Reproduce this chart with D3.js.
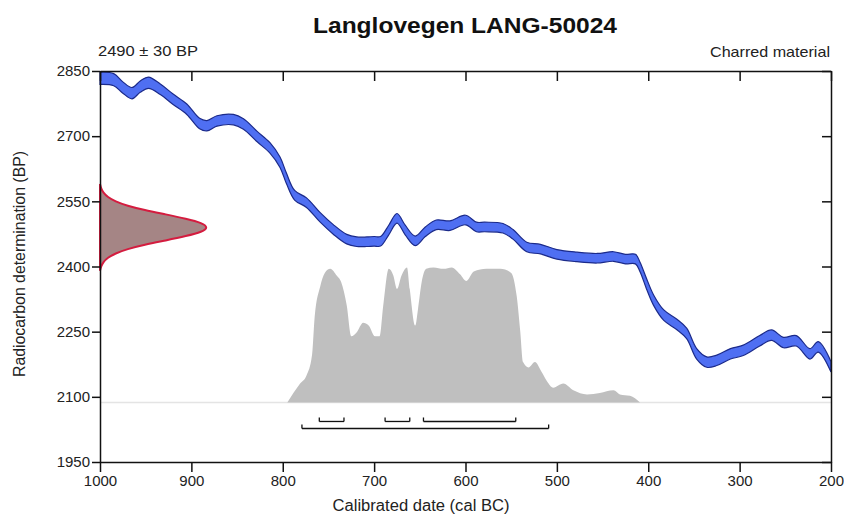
<!DOCTYPE html>
<html>
<head>
<meta charset="utf-8">
<style>
  body { margin: 0; background: white; }
  svg { font-family: "Liberation Sans", Arial, sans-serif; }
  .axis path, .axis line { stroke: #111; stroke-width: 1.5px; }
  .axis text { fill: #222; font-size: 15px; font-family: "Liberation Sans", Arial, sans-serif; }
</style>
</head>
<body>
<script src="https://d3js.org/d3.v7.min.js"></script>
<div id="chart"></div>
<script>

// calibration curve (IntCal): year BC, BP, 1-sigma
var curveYears = [1000, 985, 975, 965, 956, 947, 934, 920, 905, 891, 883, 872, 854, 843, 828, 814, 803, 796, 787, 774,
                  759, 745, 730, 719, 708, 700, 693, 684, 675, 666, 655, 644, 632, 617, 600, 588, 579, 559, 548, 533,
                  518, 500, 478, 456, 438, 425, 414, 409, 402, 394, 383, 369, 358, 347, 336, 325, 310, 296, 278, 265,
                  252, 238, 223, 214, 200];
var curveBP    = [2833, 2830, 2812, 2799, 2814, 2823, 2808, 2785, 2762, 2729, 2724, 2735, 2738, 2728, 2699, 2673, 2640, 2603, 2564, 2547,
                  2513, 2486, 2463, 2457, 2457, 2458, 2458, 2484, 2511, 2484, 2459, 2480, 2496, 2494, 2507, 2491, 2491, 2488, 2474, 2445,
                  2440, 2428, 2422, 2419, 2423, 2417, 2417, 2399, 2361, 2322, 2288, 2267, 2246, 2199, 2180, 2184, 2199, 2207, 2229, 2242,
                  2225, 2229, 2199, 2215, 2169];
var curveErr   = [14, 14, 13, 13, 13, 13, 12, 12, 12, 12, 12, 12, 12, 12, 12, 12, 12, 12, 11, 11,
                  11, 11, 11, 11, 11, 11, 11, 11, 11, 11, 11, 11, 11, 11, 11, 11, 11, 11, 11, 11,
                  11, 11, 11, 11, 11, 11, 11, 11, 12, 12, 12, 12, 12, 12, 12, 12, 12, 12, 12, 12,
                  12, 12, 12, 12, 12];

// radiocarbon measurement 2490 +/- 30 BP, relative density at BP
var measBP  = [2390, 2400, 2410, 2420, 2430, 2440, 2450, 2460, 2470, 2480, 2490, 2500, 2510, 2520, 2530, 2540, 2550, 2560, 2570, 2580, 2590];
var measRel = [0.00, 0.01, 0.03, 0.07, 0.14, 0.25, 0.41, 0.61, 0.80, 0.95, 1.00, 0.95, 0.80, 0.61, 0.41, 0.25, 0.14, 0.07, 0.03, 0.01, 0.00];

// calibrated probability, year BC and relative height
var probYears = [795, 781, 774, 768, 765, 759, 754, 748, 741, 736, 730, 725, 719, 712, 706, 699, 694, 690, 684, 679,
                 675, 670, 664, 661, 655, 652, 648, 643, 635, 624, 615, 606, 599, 591, 577, 562, 550, 544, 540, 537,
                 531, 524, 517, 511, 504, 493, 482, 467, 453, 438, 431, 420, 409];
var probRel   = [0.00, 0.14, 0.20, 0.35, 0.64, 0.86, 0.96, 0.99, 0.94, 0.89, 0.72, 0.49, 0.52, 0.59, 0.57, 0.49, 0.49, 0.72, 0.99, 0.94,
                 0.84, 0.94, 1.00, 0.84, 0.57, 0.69, 0.89, 0.99, 1.00, 0.99, 1.00, 0.95, 0.90, 0.97, 0.99, 0.99, 0.96, 0.79, 0.52, 0.30,
                 0.26, 0.30, 0.23, 0.16, 0.11, 0.14, 0.09, 0.06, 0.07, 0.09, 0.06, 0.05, 0.00];

// highest posterior density ranges
var range68 = [[760, 733], [688, 661], [646, 545]];
var range95 = [[779, 509]];

var xTicks = [1000, 900, 800, 700, 600, 500, 400, 300, 200];
var yTicks = [1950, 2100, 2250, 2400, 2550, 2700, 2850];

var width = 844, height = 520;

var svg = d3.select("#chart")
  .append("svg")
    .attr("width", width)
    .attr("height", height);

var x = d3.scaleLinear().domain([1000, 200]).range([100, 831]);
var y = d3.scaleLinear().domain([1950, 2850]).range([462, 71]);

// probability baseline and heights
var probBase = y(2087);
var p = d3.scaleLinear().domain([0, 1]).range([probBase, probBase - 135]);
var w = d3.scaleLinear().domain([0, 1]).range([x(1000), x(1000) + 108]);

// baseline of the calibrated distribution
svg.append("line")
  .attr("x1", x(1000)).attr("x2", x(200))
  .attr("y1", probBase).attr("y2", probBase)
  .attr("stroke", "#e4e4e4")
  .attr("stroke-width", 1.5);

// calibrated distribution
var probData = probYears.map(function(d, i) { return {year: d, v: probRel[i]}; });
svg.append("path")
  .datum(probData)
  .attr("fill", "#bfbfbf")
  .attr("d", d3.area()
    .x(function(d) { return x(d.year); })
    .y0(probBase)
    .y1(function(d) { return p(d.v); })
    .curve(d3.curveMonotoneX));

// calibration curve band
var curveData = curveYears.map(function(d, i) { return {year: d, bp: curveBP[i], err: curveErr[i]}; });
svg.append("path")
  .datum(curveData)
  .attr("fill", "#4f6ff2")
  .attr("stroke", "#1b2a8a")
  .attr("stroke-width", 1.2)
  .attr("d", d3.area()
    .x(function(d) { return x(d.year); })
    .y0(function(d) { return y(d.bp - d.err); })
    .y1(function(d) { return y(d.bp + d.err); })
    .curve(d3.curveCatmullRom.alpha(0.5)));

// measurement distribution on the y axis
var measData = measBP.map(function(d, i) { return {bp: d, v: measRel[i]}; });
svg.append("path")
  .datum(measData)
  .attr("fill", "#a58585")
  .attr("stroke", "#d41c3f")
  .attr("stroke-width", 2)
  .attr("d", d3.area()
    .y(function(d) { return y(d.bp); })
    .x0(x(1000))
    .x1(function(d) { return w(d.v); })
    .curve(d3.curveBasis));

// range brackets
function drawRanges(ranges, yy) {
  ranges.forEach(function(r) {
    var g = svg.append("g").attr("stroke", "#111").attr("stroke-width", 1.3);
    g.append("line").attr("x1", x(r[0])).attr("x2", x(r[1])).attr("y1", yy).attr("y2", yy);
    g.append("line").attr("x1", x(r[0])).attr("x2", x(r[0])).attr("y1", yy).attr("y2", yy - 4);
    g.append("line").attr("x1", x(r[1])).attr("x2", x(r[1])).attr("y1", yy).attr("y2", yy - 4);
  });
}
drawRanges(range68, probBase + 19);
drawRanges(range95, probBase + 26);

// axes
svg.append("g")
  .attr("class", "axis")
  .attr("transform", "translate(0," + y(1950) + ")")
  .call(d3.axisBottom(x).tickValues(xTicks).tickSize(10).tickSizeOuter(0).tickPadding(3).tickFormat(d3.format("d")));

svg.append("g")
  .attr("class", "axis")
  .attr("transform", "translate(0," + y(2850) + ")")
  .call(d3.axisBottom(x).tickValues(xTicks).tickSize(10).tickSizeOuter(0).tickFormat(""));

svg.append("g")
  .attr("class", "axis")
  .attr("transform", "translate(" + x(1000) + ",0)")
  .call(d3.axisLeft(y).tickValues(yTicks).tickSize(8).tickSizeOuter(0).tickPadding(2).tickFormat(d3.format("d")));

svg.append("g")
  .attr("class", "axis")
  .attr("transform", "translate(" + x(200) + ",0)")
  .call(d3.axisLeft(y).tickValues(yTicks).tickSize(9).tickSizeOuter(0).tickFormat(""));

// texts
svg.append("text")
  .attr("x", 465).attr("y", 33)
  .attr("text-anchor", "middle")
  .attr("textLength", 304)
  .attr("lengthAdjust", "spacingAndGlyphs")
  .style("font-size", "22px")
  .style("font-weight", "bold")
  .style("fill", "#111")
  .text("Langlovegen LANG-50024");

svg.append("text")
  .attr("x", 98).attr("y", 56)
  .attr("textLength", 100)
  .attr("lengthAdjust", "spacingAndGlyphs")
  .style("font-size", "15px")
  .style("fill", "#222")
  .text("2490 ± 30 BP");

svg.append("text")
  .attr("x", 830).attr("y", 57)
  .attr("text-anchor", "end")
  .attr("textLength", 120)
  .attr("lengthAdjust", "spacingAndGlyphs")
  .style("font-size", "15px")
  .style("fill", "#222")
  .text("Charred material");

svg.append("text")
  .attr("x", 421).attr("y", 511)
  .attr("text-anchor", "middle")
  .attr("textLength", 177)
  .attr("lengthAdjust", "spacingAndGlyphs")
  .style("font-size", "16px")
  .style("fill", "#222")
  .text("Calibrated date (cal BC)");

svg.append("text")
  .attr("transform", "translate(25,264) rotate(-90)")
  .attr("text-anchor", "middle")
  .attr("textLength", 226)
  .attr("lengthAdjust", "spacingAndGlyphs")
  .style("font-size", "16px")
  .style("fill", "#222")
  .text("Radiocarbon determination (BP)");

</script>
</body>
</html>
